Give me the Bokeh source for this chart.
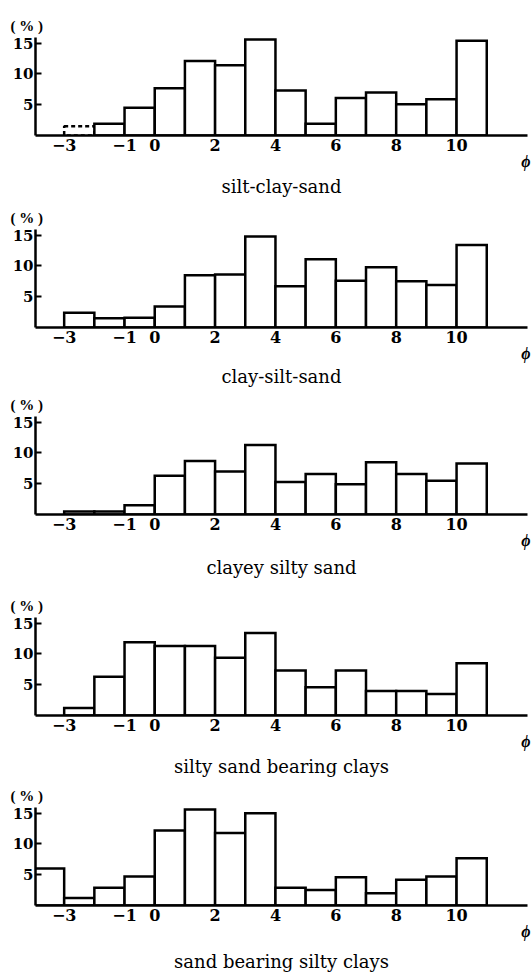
from bokeh.plotting import figure
from bokeh.layouts import column
from bokeh.models import FixedTicker, Range1d, LinearAxis
from bokeh.embed import file_html
from bokeh.resources import INLINE

# ---- data ----
phi_ticks = [-3, -1, 0, 2, 4, 6, 8, 10]
phi_tick_labels = {-3: "\u22123", -1: "\u22121", 0: "0", 2: "2", 4: "4", 6: "6", 8: "8", 10: "10"}
phi_symbol_tick = [12.3]
phi_symbol_label = {12.3: "\u03d5"}
pct_ticks = [5, 10, 15]

bins_a = list(range(-3, 11))          # left edges of 1-phi classes
bins_b = list(range(-4, 11))

silt_clay_sand = [1.5, 1.9, 4.5, 7.7, 12.1, 11.4, 15.6, 7.3, 1.9, 6.1, 7.0, 5.1, 5.9, 15.4]
clay_silt_sand = [2.4, 1.5, 1.6, 3.4, 8.5, 8.6, 14.8, 6.7, 11.1, 7.6, 9.8, 7.5, 6.9, 13.4]
clayey_silty_sand = [0.5, 0.5, 1.5, 6.3, 8.7, 7.0, 11.3, 5.3, 6.6, 4.9, 8.5, 6.6, 5.5, 8.3]
silty_sand_bearing_clays = [1.2, 6.3, 11.9, 11.3, 11.3, 9.4, 13.4, 7.3, 4.6, 7.3, 4.0, 4.0, 3.5, 8.5]
sand_bearing_silty_clays = [6.0, 1.2, 2.9, 4.7, 12.2, 15.6, 11.8, 15.0, 2.9, 2.5, 4.6, 2.0, 4.2, 4.7, 7.7]

captions = ["silt-clay-sand", "clay-silt-sand", "clayey silty sand",
            "silty sand bearing clays", "sand bearing silty clays"]
series = [(bins_a, silt_clay_sand), (bins_a, clay_silt_sand), (bins_a, clayey_silty_sand),
          (bins_a, silty_sand_bearing_clays), (bins_b, sand_bearing_silty_clays)]
dashed_first = [True, False, False, False, False]

top_borders = [37, 26, 26, 26, 26]
bottom_borders = [68, 63, 77, 66, 60]
caption_standoffs = [3, 1, 5, 3, 8]
SERIF = "Liberation Serif"
WIDE_SERIF = "DejaVu Serif"
LW = 2.5


def make_panel(caption, bins, vals, top_b, bot_b, cap_so, dash_first):
    p = figure(frame_width=492, frame_height=98,
               x_range=Range1d(-3.95, 12.35), y_range=Range1d(0, 15.93),
               output_backend="svg", toolbar_location=None,
               min_border_left=35, min_border_right=4, min_border_top=top_b,
               min_border_bottom=bot_b, title="( % )")
    p.outline_line_color = None
    p.xgrid.visible = False
    p.ygrid.visible = False
    p.background_fill_color = "white"
    p.border_fill_color = "white"

    p.title.align = "left"
    p.title.offset = -25
    p.title.standoff = 7
    p.title.text_font = SERIF
    p.title.text_font_size = "15px"
    p.title.text_font_style = "bold"
    p.title.text_color = "black"

    lefts = list(bins)
    rights = [b + 1 for b in bins]
    if dash_first:
        p.quad(left=lefts[:1], right=rights[:1], bottom=0, top=vals[:1],
               fill_color="white", line_color="black", line_width=LW, line_dash="4 3")
        lefts, rights, vals = lefts[1:], rights[1:], vals[1:]
    p.quad(left=lefts, right=rights, bottom=0, top=vals,
           fill_color="white", line_color="black", line_width=LW, line_join="miter")

    xa = p.xaxis[0]
    xa.ticker = FixedTicker(ticks=phi_ticks)
    xa.major_label_overrides = phi_tick_labels
    xa.major_tick_in = 0
    xa.major_tick_out = 0
    xa.minor_tick_in = 0
    xa.minor_tick_out = 0
    xa.axis_line_width = LW
    xa.major_label_standoff = 3
    xa.major_label_text_font = WIDE_SERIF
    xa.major_label_text_font_style = "bold"
    xa.major_label_text_font_size = "16px"
    xa.major_label_text_color = "black"

    # second axis row: the phi symbol and the caption
    xb = LinearAxis(ticker=FixedTicker(ticks=phi_symbol_tick),
                    major_label_overrides=phi_symbol_label,
                    axis_line_color=None, major_tick_in=0, major_tick_out=0,
                    minor_tick_in=0, minor_tick_out=0,
                    major_label_standoff=-1,
                    major_label_text_font=SERIF, major_label_text_font_style="bold italic",
                    major_label_text_font_size="16px", major_label_text_color="black",
                    axis_label=caption, axis_label_text_font=WIDE_SERIF,
                    axis_label_text_font_style="normal", axis_label_text_font_size="18px",
                    axis_label_standoff=cap_so, axis_label_text_color="black")
    p.add_layout(xb, "below")

    ya = p.yaxis[0]
    ya.ticker = FixedTicker(ticks=pct_ticks)
    ya.major_tick_in = 6
    ya.major_tick_out = 0
    ya.major_tick_line_width = 2
    ya.minor_tick_in = 0
    ya.minor_tick_out = 0
    ya.axis_line_width = LW
    ya.major_label_standoff = 2
    ya.major_label_text_font = WIDE_SERIF
    ya.major_label_text_font_style = "bold"
    ya.major_label_text_font_size = "15px"
    ya.major_label_text_color = "black"
    return p


figs = [make_panel(c, b, v, t, bb, so, d)
        for c, (b, v), t, bb, so, d in zip(captions, series, top_borders, bottom_borders,
                                           caption_standoffs, dashed_first)]
layout = column(*figs, spacing=0)

open("out.html", "w").write(file_html(layout, INLINE))
